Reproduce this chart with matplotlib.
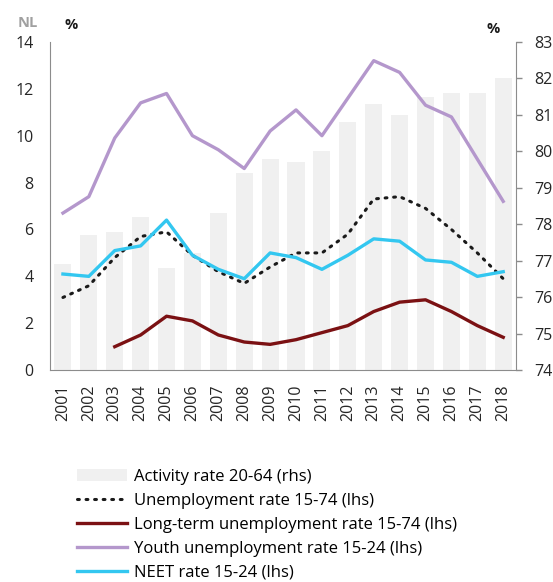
import numpy as np
import matplotlib
matplotlib.use("Agg")
import matplotlib.pyplot as plt

plt.rcParams['font.family'] = ['Open Sans', 'DejaVu Sans']

# data
years = [str(y) for y in range(2001, 2019)]
activity = [76.9, 77.7, 77.8, 78.2, 76.8, 77.2, 78.3, 79.4, 79.8, 79.7,
            80.0, 80.8, 81.3, 81.0, 81.5, 81.6, 81.6, 82.0]
unemp = [3.1, 3.6, 4.8, 5.7, 5.9, 4.9, 4.2, 3.7, 4.4, 5.0,
         5.0, 5.8, 7.3, 7.4, 6.9, 6.0, 5.0, 3.9]
longterm = [np.nan, np.nan, 1.0, 1.5, 2.3, 2.1, 1.5, 1.2, 1.1, 1.3,
            1.6, 1.9, 2.5, 2.9, 3.0, 2.5, 1.9, 1.4]
youth = [6.7, 7.4, 9.9, 11.4, 11.8, 10.0, 9.4, 8.6, 10.2, 11.1,
         10.0, 11.6, 13.2, 12.7, 11.3, 10.8, 9.0, 7.2]
neet = [4.1, 4.0, 5.1, 5.3, 6.4, 4.9, 4.3, 3.9, 5.0, 4.8,
        4.3, 4.9, 5.6, 5.5, 4.7, 4.6, 4.0, 4.2]

x = np.arange(len(years))
grey = '#8c8c8c'
txt = '#262626'

fig = plt.figure(figsize=(5.53, 5.82), dpi=100)
ax1 = fig.add_axes([0.0904, 0.364, 0.843, 0.564])
ax2 = ax1.twinx()
ax1.set_zorder(ax2.get_zorder() + 1)
ax1.patch.set_visible(False)

# barras no eixo da direita
bars = ax2.bar(x, [a - 74 for a in activity], bottom=74, width=0.66,
               color='#f0f0f0', label='Activity rate 20-64 (rhs)')
ax2.set_ylim(74, 83)
ax2.set_yticks(range(74, 84))

l1, = ax1.plot(x, unemp, color='#1a1a1a', lw=2.2, ls=(0, (0.6, 2.2)),
               dash_capstyle='round', label='Unemployment rate 15-74 (lhs)')
l2, = ax1.plot(x, longterm, color='#7b1113', lw=2.4,
               label='Long-term unemployment rate 15-74 (lhs)')
l3, = ax1.plot(x, youth, color='#b497cc', lw=2.4,
               label='Youth unemployment rate 15-24 (lhs)')
l4, = ax1.plot(x, neet, color='#33c7f0', lw=2.4,
               label='NEET rate 15-24 (lhs)')

ax1.set_xlim(-0.5, len(years) - 0.5)
ax1.set_ylim(0, 14)
ax1.set_yticks(range(0, 15, 2))
ax1.set_xticks(x)
ax1.set_xticklabels(years, rotation=90, fontsize=11.5, color=txt)

for a in (ax1, ax2):
    a.spines['top'].set_visible(False)
    for s in ('left', 'right', 'bottom'):
        a.spines[s].set_color(grey)
ax1.spines['right'].set_visible(False)
ax2.spines['left'].set_visible(False)
ax2.spines['bottom'].set_visible(False)

ax1.tick_params(axis='y', length=0, pad=12, labelsize=11.5, labelcolor=txt)
ax1.tick_params(axis='x', length=0, pad=10)
ax2.tick_params(axis='y', length=4, width=1, color=grey, direction='out',
                pad=9, labelsize=11.5, labelcolor=txt)

fig.text(0.032, 0.9536, 'NL', fontsize=10.5, fontweight='bold', color='#a0a0a0')
fig.text(0.117, 0.950, '%', fontsize=10.5, fontweight='bold', color='#1a1a1a')
fig.text(0.880, 0.943, '%', fontsize=10.5, fontweight='bold', color='#1a1a1a')

fig.legend(handles=[bars, l1, l2, l3, l4], loc='upper left',
           bbox_to_anchor=(0.14, 0.195), frameon=False, fontsize=12,
           handlelength=3.0, handletextpad=0.4, labelspacing=0.48,
           borderaxespad=0, borderpad=0)

fig.savefig('out.png', dpi=100)
